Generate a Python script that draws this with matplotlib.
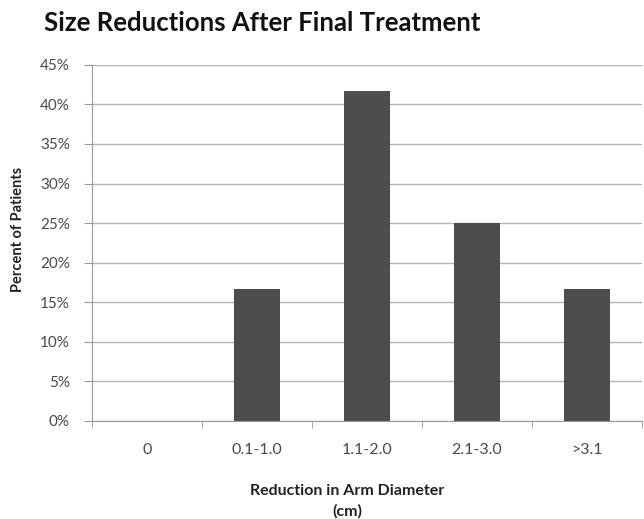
import matplotlib
matplotlib.use("Agg")
import matplotlib.pyplot as plt
from matplotlib.ticker import FixedLocator

categories = ["0", "0.1-1.0", "1.1-2.0", "2.1-3.0", ">3.1"]
percent = [0.0, 16.67, 41.67, 25.0, 16.67]
yticks = [0, 5, 10, 15, 20, 25, 30, 35, 40, 45]

plt.rcParams['font.family'] = ['Lato', 'DejaVu Sans']

fig = plt.figure(figsize=(6.44, 5.19), dpi=100)
ax = fig.add_axes([0.143, 0.189, 0.854, 0.686])

x = list(range(len(categories)))
ax.bar(x, percent, width=0.42, color="#4d4d4d", zorder=3)

ax.set_xlim(-0.5, len(categories) - 0.5)
ax.set_ylim(0, 45)
ax.set_yticks(yticks)
ax.set_yticklabels([f"{v}%" for v in yticks])
ax.yaxis.grid(True, color="#b4b4b4", linewidth=1, zorder=0)

ax.set_xticks(x)
ax.set_xticklabels(categories)
ax.tick_params(axis="x", length=0, pad=16, labelsize=11.5, labelcolor="#4a4a4a")
ax.xaxis.set_minor_locator(FixedLocator([i - 0.5 for i in range(len(categories) + 1)]))
ax.tick_params(axis="x", which="minor", length=5, color="#9a9a9a", direction="out")
ax.tick_params(axis="y", length=6, color="#9a9a9a", labelsize=11, labelcolor="#4a4a4a", pad=10)

for s in ["top", "right"]:
    ax.spines[s].set_visible(False)
for s in ["left", "bottom"]:
    ax.spines[s].set_color("#9a9a9a")

fig.text(18 / 644, 1 - 229 / 519, "Percent of Patients", rotation=90, ha="center", va="center",
         fontsize=10.5, fontweight="bold", color="#222222")
fig.text(347 / 644, 1 - 491 / 519, "Reduction in Arm Diameter", ha="center", va="center",
         fontsize=11.5, fontweight="bold", color="#222222")
fig.text(347 / 644, 1 - 511 / 519, "(cm)", ha="center", va="center",
         fontsize=11.5, fontweight="bold", color="#222222")

fig.text(0.407, 0.955, "Size Reductions After Final Treatment", ha="center", va="center",
         fontsize=18.5, fontweight="bold", color="#111111")

fig.savefig("out.png", dpi=100)
